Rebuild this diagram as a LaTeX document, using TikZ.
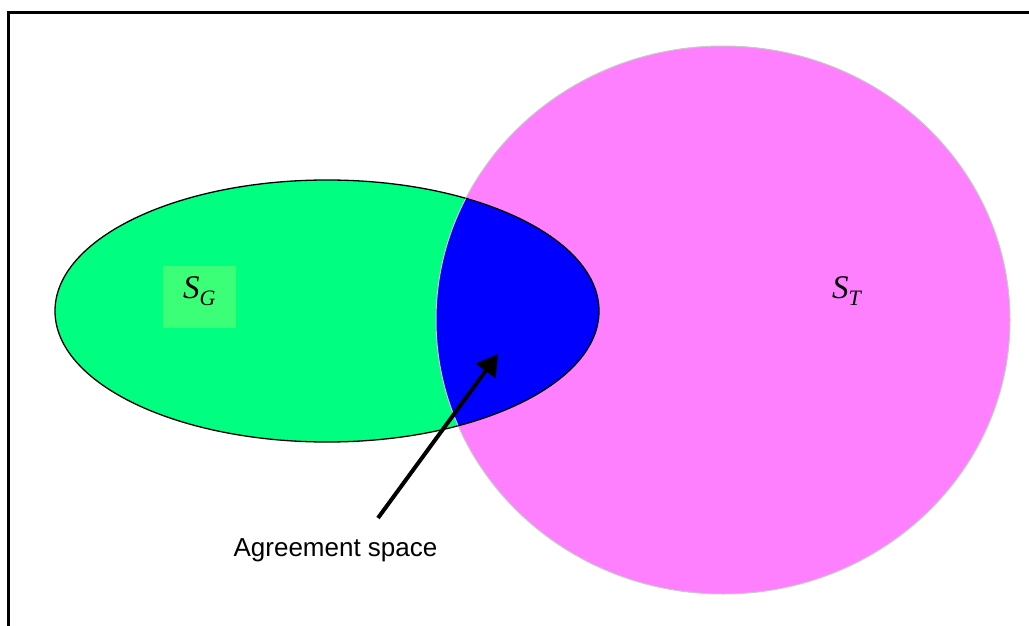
\documentclass[tikz,border=0pt]{standalone}
\usepackage{fontspec}
\setmainfont{Liberation Serif}
\newfontfamily\arialf{Liberation Sans}
\usetikzlibrary{arrows.meta}
\definecolor{sgreen}{HTML}{00FF80}
\definecolor{sgbox}{HTML}{3CFF78}
\definecolor{spink}{HTML}{FF80FF}
\definecolor{sblue}{HTML}{0000FF}
\definecolor{cedge}{HTML}{C8C8C8}
\tikzset{
  setlabel/.style={inner sep=0pt, font=\fontsize{33}{36}\selectfont\itshape},
  caption/.style={inner sep=0pt, font=\arialf\fontsize{26}{30}\selectfont},
  pointer/.style={line width=4pt, -{Triangle[length=21pt,width=24pt]}},
  frameline/.style={line width=3.5pt},
}
\newcommand{\ellG}{(327,311) ellipse [x radius=272, y radius=131]}
\newcommand{\ellT}{(723,320) ellipse [x radius=287, y radius=274]}
\begin{document}
\begin{tikzpicture}[x=1pt,y=-1pt]
\useasboundingbox (0,0) rectangle (1029,626);
\fill[white] (0,0) rectangle (1029,626);
\draw[frameline] (8.5,626) -- (8.5,12.5) -- (1029,12.5);
% S_G ellipse
\fill[sgreen] \ellG;
\fill[sgbox] (163,266) rectangle (236,328);
\draw[black, line width=1.3pt] \ellG;
% S_T circle
\fill[spink] \ellT;
\begin{scope}
  \clip \ellG;
  \fill[sblue] \ellT;
\end{scope}
\draw[cedge, line width=1pt] \ellT;
\begin{scope}
  \clip \ellT;
  \draw[black, line width=1.3pt] \ellG;
\end{scope}
% labels
\node[setlabel, anchor=base west] (sg) at (183,298) {S\raisebox{-0.22em}{\fontsize{22}{24}\selectfont G}};
\node[setlabel, anchor=base west] (st) at (832,298) {S\raisebox{-0.22em}{\fontsize{22}{24}\selectfont T}};
\node[caption, anchor=base] (agree) at (335.5,556.5) {Agreement space};
\coordinate (tail) at (378,518);
\coordinate (tip) at (498,354);
\draw[pointer] (tail) -- (tip);
\end{tikzpicture}
\end{document}
